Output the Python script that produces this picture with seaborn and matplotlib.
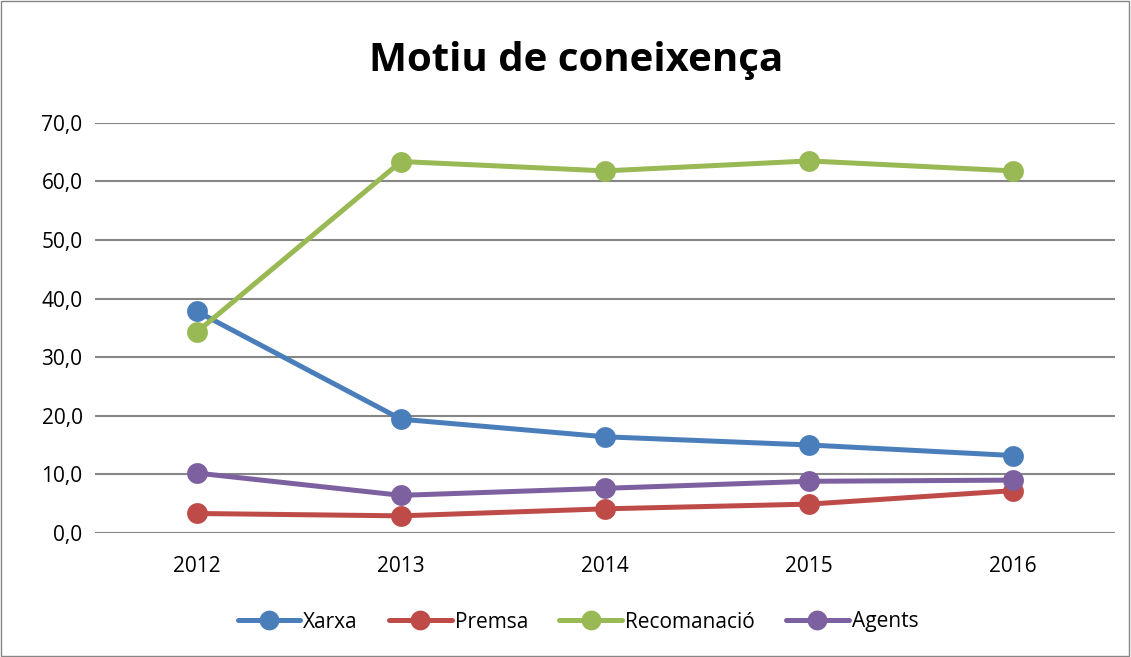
import pandas as pd
import numpy as np
import seaborn as sns
import matplotlib
matplotlib.use('Agg')
import matplotlib.pyplot as plt

# data
years = ['2012', '2013', '2014', '2015', '2016']
xarxa = [37.8, 19.4, 16.4, 15.0, 13.2]
premsa = [3.3, 2.9, 4.1, 4.9, 7.2]
recomanacio = [34.3, 63.4, 61.8, 63.5, 61.8]
agents = [10.2, 6.4, 7.6, 8.8, 9.0]

series_names = ['Xarxa', 'Premsa', 'Recomanació', 'Agents']
colors = ['#4A7EBB', '#BE4B48', '#98B954', '#7D60A0']

df = pd.DataFrame({'any': years, 'Xarxa': xarxa, 'Premsa': premsa,
                   'Recomanació': recomanacio, 'Agents': agents})
long_df = df.melt(id_vars='any', var_name='motiu', value_name='valor')

sns.set_style('white')
plt.rcParams['font.family'] = ['Open Sans', 'DejaVu Sans']
plt.rcParams['text.color'] = 'black'

fig = plt.figure(figsize=(11.31, 6.57), dpi=100)
ax = fig.add_axes([0.084, 0.189, 0.902, 0.624])

sns.lineplot(data=long_df, x='any', y='valor', hue='motiu', hue_order=series_names,
             palette=colors, marker='o', markersize=15, linewidth=3.6,
             markeredgewidth=0, sort=False, ax=ax)

ax.set_ylim(0, 70)
ax.set_xlim(-0.5, 4.5)
ax.set_yticks(np.arange(0, 71, 10))
ax.set_yticklabels([f'{v:.1f}'.replace('.', ',') for v in np.arange(0, 71, 10)])
ax.yaxis.grid(True, color='#868686', linewidth=1.5)
ax.set_axisbelow(True)
for s in ['top', 'right', 'left', 'bottom']:
    ax.spines[s].set_visible(False)
ax.tick_params(axis='both', labelsize=15, length=0, colors='black')
ax.tick_params(axis='x', pad=17)
ax.tick_params(axis='y', pad=9)
ax.set_xlabel('')
ax.set_ylabel('')

handles, labels = ax.get_legend_handles_labels()
ax.legend(handles, labels, loc='center', ncol=4, frameon=False, fontsize=15,
          handlelength=3.0, handletextpad=0.15, columnspacing=1.5, markerscale=0.95)
leg = ax.get_legend()
leg.set_bbox_to_anchor((578 / 1131, 1 - 622 / 657), transform=fig.transFigure)

fig.text(576 / 1131, 1 - 60 / 657, 'Motiu de coneixença', ha='center', va='center',
         fontsize=29, fontweight='bold', color='black')

# chart border
fig.patches.append(plt.Rectangle((0.001, 0.001), 0.997, 0.997, transform=fig.transFigure,
                                 fill=False, edgecolor='#868686', linewidth=1))

fig.savefig('out.png', dpi=100)
